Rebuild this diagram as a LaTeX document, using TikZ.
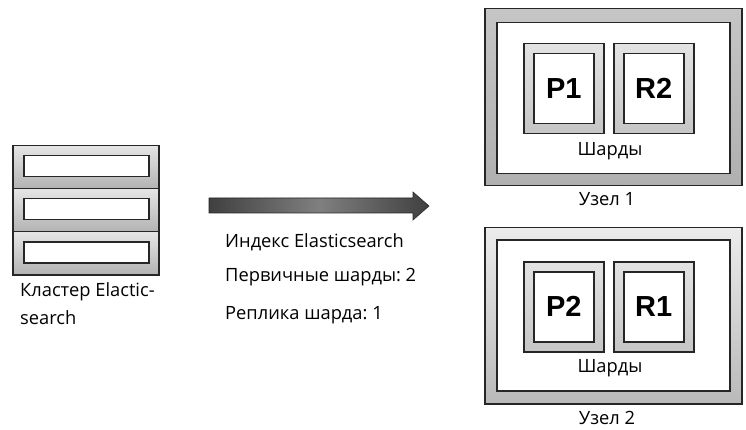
\documentclass[tikz,border=0pt]{standalone}
\usepackage{fontspec}
\setmainfont{Open Sans}
\newfontfamily\shardfont{Liberation Sans}
\usetikzlibrary{positioning}
\definecolor{edge}{HTML}{262626}
\frenchspacing
\tikzset{
  box/.style={draw=edge, line width=1.5pt, inner sep=0pt, anchor=north west},
  unit/.style={box, top color=gray!20, bottom color=gray!60},
  slot/.style={box, fill=white},
  nodeA/.style={box, top color=gray!45, bottom color=gray!62},
  nodeB/.style={box, top color=gray!15, bottom color=gray!55},
  shardout/.style={box, top color=gray!22, bottom color=gray!45},
  shardin/.style={box, fill=white, font=\shardfont\bfseries\fontsize{29}{29}\selectfont, anchor=center},
  lbl/.style={font=\fontsize{18.3}{20}\selectfont, inner sep=0pt},
  lblL/.style={lbl, anchor=west},
}
\begin{document}
\begin{tikzpicture}[x=1pt,y=-1pt]
\useasboundingbox (0,0) rectangle (746,430);
% cluster
\foreach \i/\t in {1/145,2/188,3/231}{
  \node[unit, minimum width=146pt, minimum height=43pt] (u\i) at (12,\t) {};
  \node[slot, minimum width=125pt, minimum height=21pt] (s\i) at (23,\t+10) {};
}
\node[lblL] (cl1) at (20,292) {Кластер Elactic-};
\node[lblL] (cl2) at (20,318) {search};
% arrow
\shade[left color=black!75, right color=black!75, middle color=black!50, draw=edge, line width=0.6pt]
  (209,198) -- (413,198) -- (413,192) -- (429,206) -- (413,220) -- (413,213) -- (209,213) -- cycle;
\node[lblL] (t1) at (225,242) {Индекс Elasticsearch};
\node[lblL] (t2) at (225,277) {Первичные шарды: 2};
\node[lblL] (t3) at (225,315) {Реплика шарда: 1};
% node 1
\node[nodeA, minimum width=257pt, minimum height=177pt] (n1) at (484,8) {};
\node[slot, minimum width=233pt, minimum height=151pt] (n1i) at (496,22) {};
\node[shardout, minimum width=80pt, minimum height=90pt] (p1o) at (523,43) {};
\node[shardin, minimum width=60pt, minimum height=70pt] (p1) at (p1o.center) {P1};
\node[shardout, minimum width=80pt, minimum height=90pt] (r2o) at (613,43) {};
\node[shardin, minimum width=60pt, minimum height=70pt] (r2) at (r2o.center) {R2};
\node[lbl] (sh1) at (610,151) {Шарды};
\node[lbl] (uz1) at (607,199) {Узел 1};
% node 2
\node[nodeB, minimum width=257pt, minimum height=176pt] (n2) at (484,227) {};
\node[slot, minimum width=233pt, minimum height=151pt] (n2i) at (496,239) {};
\node[shardout, minimum width=80pt, minimum height=90pt] (p2o) at (523,261) {};
\node[shardin, minimum width=60pt, minimum height=70pt] (p2) at (p2o.center) {P2};
\node[shardout, minimum width=80pt, minimum height=90pt] (r1o) at (613,261) {};
\node[shardin, minimum width=60pt, minimum height=70pt] (r1) at (r1o.center) {R1};
\node[lbl] (sh2) at (610,368) {Шарды};
\node[lbl] (uz2) at (607,418) {Узел 2};
\end{tikzpicture}
\end{document}
